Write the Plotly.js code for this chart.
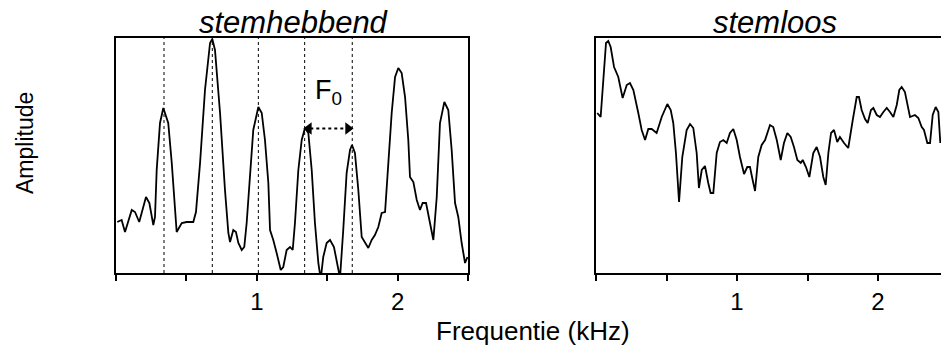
<!DOCTYPE html>
<html>
<head>
<meta charset="utf-8">
<script src="https://cdn.plot.ly/plotly-3.0.1.min.js"></script>
<style>
html, body { margin: 0; padding: 0; background: #fff; overflow: hidden; }
#chart { width: 941px; height: 345px; }
</style>
</head>
<body>
<div id="chart"></div>
<script>
// Voiced (stemhebbend) spectrum: frequency (kHz) and amplitude (arbitrary units)
const voicedFreq = [0.009,0.040,0.064,0.112,0.135,0.165,0.213,0.237,0.265,0.277,0.289,0.3125,0.336,0.371,0.396,0.419,0.431,0.467,0.502,0.549,0.568,0.597,0.632,0.668,0.684,0.703,0.739,0.774,0.798,0.810,0.833,0.852,0.869,0.893,0.911,0.928,0.952,0.975,1.011,1.035,1.058,1.082,1.094,1.117,1.141,1.170,1.188,1.212,1.236,1.255,1.271,1.295,1.319,1.342,1.366,1.390,1.413,1.437,1.454,1.472,1.496,1.520,1.548,1.567,1.591,1.614,1.638,1.662,1.676,1.697,1.721,1.745,1.768,1.792,1.816,1.839,1.863,1.887,1.911,1.934,1.958,1.982,2.005,2.029,2.053,2.076,2.088,2.112,2.136,2.159,2.178,2.202,2.230,2.254,2.278,2.301,2.332,2.360,2.384,2.408,2.431,2.455,2.479,2.496];
const voicedAmp = [51,53,41,63,61,51,76,70,48,56,103,150,165,150,110,66,41,50,51,51,61,110,183,230,234,223,160,83,40,31,43,41,30,23,26,50,103,143,166,160,133,90,43,33,20,3,6,23,26,23,50,103,133,145,140,103,50,10,-6,16,30,33,26,10,-5,43,100,123,128,120,83,36,31,25,33,38,46,60,61,110,160,196,205,200,176,133,96,91,73,63,70,70,50,33,76,150,171,163,123,70,56,30,10,16];

// Voiceless (stemloos) spectrum
const voicelessFreq = [0.009,0.033,0.052,0.071,0.087,0.104,0.128,0.158,0.189,0.218,0.241,0.265,0.300,0.324,0.348,0.371,0.395,0.430,0.466,0.506,0.530,0.548,0.567,0.589,0.612,0.643,0.667,0.690,0.714,0.730,0.750,0.773,0.796,0.813,0.832,0.856,0.879,0.903,0.927,0.950,0.974,0.998,1.021,1.050,1.073,1.092,1.111,1.128,1.151,1.175,1.199,1.215,1.234,1.257,1.282,1.310,1.333,1.357,1.381,1.404,1.428,1.452,1.466,1.489,1.513,1.541,1.565,1.589,1.612,1.629,1.648,1.667,1.688,1.711,1.730,1.759,1.789,1.821,1.849,1.865,1.884,1.908,1.927,1.950,1.967,1.991,2.014,2.038,2.062,2.085,2.109,2.133,2.151,2.168,2.191,2.227,2.262,2.286,2.310,2.326,2.350,2.369,2.388,2.409,2.428,2.442];
const voicelessAmp = [160,156,193,230,232,226,206,196,175,188,190,183,160,143,133,144,144,140,156,169,163,150,120,71,116,143,149,145,120,85,103,107,90,80,80,120,131,133,130,140,144,133,116,99,106,106,93,82,116,128,133,141,148,146,133,113,130,140,136,126,113,110,113,106,96,120,126,116,96,88,120,140,143,131,136,130,125,153,176,176,163,154,150,163,165,158,156,161,165,161,156,168,183,186,181,156,158,155,146,143,130,130,158,166,161,130];

// Harmonics of F0 marked with dotted lines (kHz)
const harmonics = [0.341, 0.684, 1.011, 1.340, 1.678];
const f0ArrowLevel = 144.5;   // amplitude of the 4th harmonic peak, where the F0 arrow sits
const labelledTicks = [1, 2];
const labelledTickText = ['1', '2'];
const minorTickStep = 0.5;
const panelTitles = ['stemhebbend', 'stemloos'];
const xTitle = 'Frequentie (kHz)';
const yTitle = 'Amplitude';

const FONT = 'Liberation Sans, Arial, Helvetica, sans-serif';
const W = 941, H = 345;
const px = v => v / W;
const py = v => (H - v) / H;

const traces = [
  { x: voicedFreq, y: voicedAmp, xaxis: 'x', yaxis: 'y', type: 'scatter', mode: 'lines',
    line: { color: '#000', width: 1.8 }, hoverinfo: 'skip' },
  { x: voicelessFreq, y: voicelessAmp, xaxis: 'x2', yaxis: 'y2', type: 'scatter', mode: 'lines',
    line: { color: '#000', width: 1.8 }, hoverinfo: 'skip' },
  // arrowheads of the F0 double arrow
  { x: [harmonics[3] + 0.03, harmonics[4] - 0.03], y: [f0ArrowLevel, f0ArrowLevel], xaxis: 'x', yaxis: 'y',
    type: 'scatter', mode: 'markers', hoverinfo: 'skip', cliponaxis: false,
    marker: { symbol: ['triangle-left', 'triangle-right'], size: 11, color: '#000', line: { width: 0 } } }
];

const xCommon = {
  tickmode: 'array', tickvals: labelledTicks, ticktext: labelledTickText,
  ticks: 'outside', ticklen: 6, tickwidth: 2, tickcolor: '#000',
  minor: { tick0: 0, dtick: minorTickStep, ticks: 'outside', ticklen: 6, tickwidth: 2, tickcolor: '#000', showgrid: false },
  showline: true, linewidth: 2, linecolor: '#000', mirror: true, showgrid: false, zeroline: false,
  tickfont: { family: FONT, size: 24, color: '#000' }
};
const yCommon = {
  range: [0, 235], showticklabels: false, ticks: '', showline: true, linewidth: 2, linecolor: '#000',
  showgrid: false, zeroline: false, domain: [py(273), py(38)]
};

const shapes = harmonics.map(h => ({
  type: 'line', xref: 'x', yref: 'y domain', x0: h, x1: h, y0: 0, y1: 1,
  line: { color: '#000', width: 1, dash: 'dot' }
}));
// dotted F0 arrow shaft between 4th and 5th harmonic
shapes.push({ type: 'line', xref: 'x', yref: 'y', x0: harmonics[3] + 0.04, x1: harmonics[4] - 0.04,
  y0: f0ArrowLevel, y1: f0ArrowLevel, line: { color: '#000', width: 1.8, dash: 'dot' } });

const annotations = [
  { text: panelTitles[0], xref: 'paper', yref: 'paper', x: px(294), y: py(22), showarrow: false,
    xanchor: 'center', yanchor: 'middle', font: { family: FONT, size: 31, color: '#000', style: 'italic' } },
  { text: panelTitles[1], xref: 'paper', yref: 'paper', x: px(775), y: py(22), showarrow: false,
    xanchor: 'center', yanchor: 'middle', font: { family: FONT, size: 31, color: '#000', style: 'italic' } },
  { text: xTitle, xref: 'paper', yref: 'paper', x: px(533), y: py(331), showarrow: false,
    xanchor: 'center', yanchor: 'middle', font: { family: FONT, size: 26, color: '#000' } },
  { text: yTitle, xref: 'paper', yref: 'paper', x: px(25), y: py(143), showarrow: false, textangle: -90,
    xanchor: 'center', yanchor: 'middle', font: { family: FONT, size: 23, color: '#000' } },
  { text: 'F<sub>0</sub>', xref: 'paper', yref: 'paper', x: px(328), y: py(92), showarrow: false,
    xanchor: 'center', yanchor: 'middle', font: { family: FONT, size: 27, color: '#000' } }
];

const layout = {
  width: W, height: H,
  margin: { l: 0, r: 0, t: 0, b: 0 },
  paper_bgcolor: '#fff', plot_bgcolor: '#fff',
  showlegend: false,
  xaxis: Object.assign({}, xCommon, { domain: [px(116), px(468)], range: [0, 2.5], anchor: 'y' }),
  yaxis: Object.assign({}, yCommon, { anchor: 'x', mirror: true }),
  xaxis2: Object.assign({}, xCommon, { domain: [px(596), 1], range: [0, (941 - 596) / 141], anchor: 'y2' }),
  yaxis2: Object.assign({}, yCommon, { anchor: 'x2', mirror: false }),
  shapes: shapes,
  annotations: annotations
};

Plotly.newPlot('chart', traces, layout, { staticPlot: true, displayModeBar: false });
</script>
</body>
</html>
